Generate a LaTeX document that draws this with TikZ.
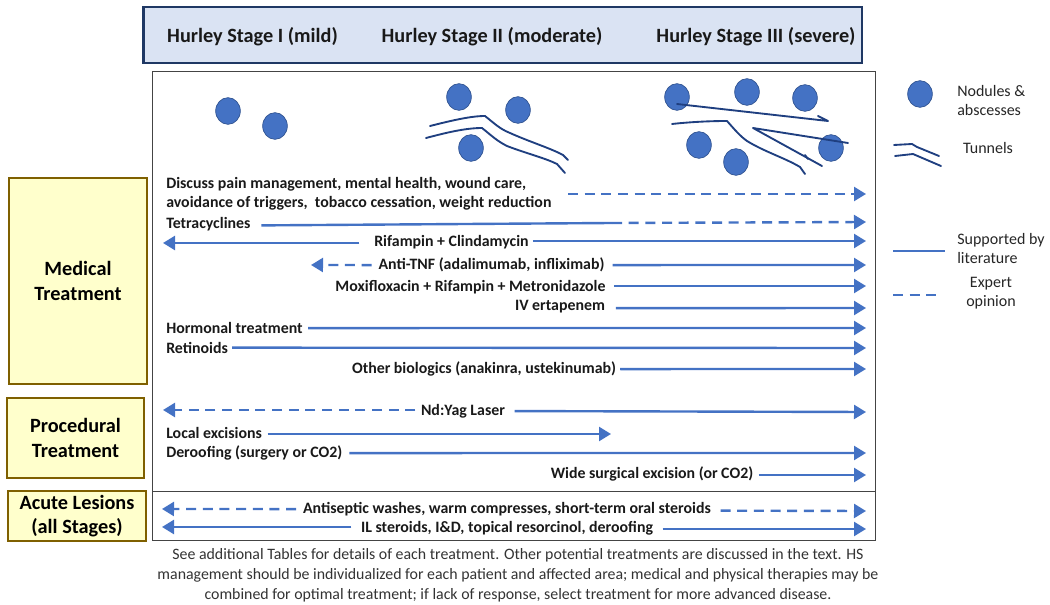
\documentclass[tikz,border=0pt]{standalone}
\usepackage{fontspec}
\setmainfont{Carlito}
\usetikzlibrary{arrows.meta,shapes.geometric}
\definecolor{arrowblue}{HTML}{4472C4}
\definecolor{nodeedge}{HTML}{2F528F}
\definecolor{tunnelblue}{HTML}{1F3F80}
\definecolor{headfill}{HTML}{DAE3F3}
\definecolor{headedge}{HTML}{1F3864}
\definecolor{sidefill}{HTML}{FFFFCC}
\definecolor{sideedge}{HTML}{7F6000}
\definecolor{framegrey}{HTML}{444444}
\tikzset{
  lab/.style={font=\fontsize{11.9pt}{14pt}\bfseries\selectfont,inner sep=0pt,text=black!90,yshift=-0.8pt},
  leftlab/.style={lab,anchor=west},
  stagelab/.style={font=\fontsize{15.2pt}{18pt}\bfseries\selectfont,inner sep=0pt,text=black!90,yshift=-0.7pt},
  legendlab/.style={font=\fontsize{12pt}{14.2pt}\selectfont,inner sep=0pt,text=black!85,align=left},
  notelab/.style={font=\fontsize{11.9pt}{14.9pt}\selectfont,inner sep=0pt,text=black!80,align=center},
  sidebox/.style={draw=sideedge,fill=sidefill,line width=1.7pt,inner sep=0pt,align=center,
    font=\fontsize{15.2pt}{18.4pt}\bfseries\selectfont},
  nodule/.style={ellipse,draw=nodeedge,fill=arrowblue,line width=0.5pt,minimum width=18.5pt,minimum height=20pt,inner sep=0pt},
  tunnel/.style={draw=tunnelblue,line width=1.4pt,line cap=round,line join=round},
  solidarr/.style={draw=arrowblue,line width=1.8pt,-{Triangle[length=9pt,width=10.5pt]}},
  dasharr/.style={solidarr,dash pattern=on 7.5pt off 5pt},
  plainline/.style={draw=arrowblue,line width=1.8pt},
  dashline/.style={plainline,dash pattern=on 7.5pt off 5pt},
}
\begin{document}
\begin{tikzpicture}[x=0.75pt,y=-0.75pt]
\useasboundingbox (0,0) rectangle (1050,605);
% header
\node[draw=headedge,fill=headfill,line width=2pt,minimum width=539pt,minimum height=42pt,inner sep=0pt] (hdr) at (502.5,35) {};
\node[stagelab] (s1) at (252.5,36) {Hurley Stage I (mild)};
\node[stagelab] (s2) at (492,36) {Hurley Stage II (moderate)};
\node[stagelab] (s3) at (756,36) {Hurley Stage III (severe)};
% frame
\draw[framegrey,line width=0.6pt] (152,71) rectangle (875,540);
\draw[framegrey,line width=0.6pt] (152,491) -- (875,491);
% side boxes
\node[sidebox,minimum width=104pt,minimum height=154pt] (med) at (78,281) {Medical\\Treatment};
\node[sidebox,minimum width=102.5pt,minimum height=60pt] (proc) at (75.5,438) {Procedural\\Treatment};
\node[sidebox,minimum width=103.5pt,minimum height=37pt] (acute) at (77,516) {Acute Lesions\\(all Stages)};
% nodules
\foreach \n/\x/\y in {a/228/111,b/275/126,c/459/97,d/518/110,e/471/148,f/677/97,g/747/92,h/805/98,i/699/145,j/736/162,k/831/148,l/920/94}
  \node[nodule] (n\n) at (\x,\y) {};
% tunnels stage II
\draw[tunnel] (430,126) .. controls (450,121) and (470,116) .. (485,116) .. controls (495,124) and (500,129) .. (510,133) .. controls (530,142) and (550,148) .. (563,155) -- (568,160);
\draw[tunnel] (426,138) .. controls (445,133) and (465,128) .. (482,128) .. controls (492,136) and (497,141) .. (507,146) .. controls (525,153) and (545,158) .. (557,164) -- (565,173);
% tunnels stage III
\draw[tunnel] (677,104) -- (828,121) -- (818,116);
\draw[tunnel] (672,124) .. controls (690,122) and (710,121) .. (727,121) .. controls (735,130) and (740,136) .. (747,141) .. controls (765,152) and (785,158) .. (800,167) -- (805,174);
\draw[tunnel] (848,143) -- (753,128) -- (822,166);
\draw[tunnel] (805,155) -- (808,159);
% legend
\draw[tunnel] (894,145) -- (912,144) -- (917,147) -- (939,156);
\draw[tunnel] (895,156) -- (913,154) -- (941,166);
\node[legendlab,anchor=west] (lg1) at (957,100.5) {Nodules \&\\abscesses};
\node[legendlab] (lg2) at (988,148) {Tunnels};
\node[legendlab,anchor=west] (lg3) at (957,248.5) {Supported by\\literature};
\node[legendlab,align=center] (lg4) at (991,293.5) {Expert\\opinion};
\coordinate (ls1) at (893,251); \coordinate (ls2) at (945,251);
\coordinate (ld1) at (893,295); \coordinate (ld2) at (938,295);
\draw[plainline] (ls1) -- (ls2);
\draw[dashline] (ld1) -- (ld2);
% rows
\node[lab,align=left,anchor=north west,font=\fontsize{11.9pt}{14.3pt}\bfseries\selectfont] (r1) at (166,176) {Discuss pain management, mental health, wound care,\\avoidance of triggers,~ tobacco cessation, weight reduction};
\coordinate (r1a) at (568,194); \coordinate (r1b) at (866,194);
\draw[dasharr] (r1a) -- (r1b);

\node[leftlab] (r2) at (166,223) {Tetracyclines};
\coordinate (r2m) at (612,223); \coordinate (r2b) at (866,222);
\draw[plainline] ([xshift=8pt,yshift=-1pt]r2.east) -- (r2m);
\draw[dasharr] (r2m) -- (r2b);

\node[lab] (r3) at (451.5,241) {Rifampin + Clindamycin};
\coordinate (r3l) at (163,243); \coordinate (r3r) at (866,241);
\draw[solidarr] ([xshift=3pt,yshift=0.8pt]r3.east) -- (r3r);
\draw[solidarr] ([xshift=-11pt,yshift=-0.7pt]r3.west) -- (r3l);

\node[lab] (r4) at (491.5,264) {Anti-TNF (adalimumab, infliximab)};
\coordinate (r4l) at (311,265); \coordinate (r4r) at (866,265);
\draw[solidarr] ([xshift=6pt]r4.east) -- (r4r);
\draw[dasharr] ([xshift=-5pt]r4.west) -- (r4l);

\node[lab] (r5) at (470.5,286) {Moxifloxacin + Rifampin + Metronidazole};
\coordinate (r5r) at (866,286);
\draw[solidarr] ([xshift=6pt,yshift=0.8pt]r5.east) -- (r5r);

\node[lab] (r6) at (560,305.5) {IV ertapenem};
\coordinate (r6r) at (866,308);
\draw[solidarr] ([xshift=8pt,yshift=-1.2pt]r6.east) -- (r6r);

\node[leftlab] (r7) at (166,327) {Hormonal treatment};
\coordinate (r7r) at (866,328);
\draw[solidarr] ([xshift=4pt]r7.east) -- (r7r);

\node[leftlab] (r8) at (166,347) {Retinoids};
\coordinate (r8r) at (866,348);
\draw[solidarr] ([xshift=3pt,yshift=0.3pt]r8.east) -- (r8r);

\node[lab] (r9) at (484,368) {Other biologics (anakinra, ustekinumab)};
\coordinate (r9r) at (866,369);
\draw[solidarr] ([xshift=3pt]r9.east) -- (r9r);

\node[lab] (p1) at (463,410) {Nd:Yag Laser};
\coordinate (p1l) at (163,410); \coordinate (p1r) at (866,412);
\draw[solidarr] ([xshift=7pt]p1.east) -- (p1r);
\draw[dasharr] ([xshift=-4pt,yshift=0.8pt]p1.west) -- (p1l);

\node[leftlab] (p2) at (166,432) {Local excisions};
\coordinate (p2r) at (611,434);
\draw[solidarr] ([xshift=4pt,yshift=-0.7pt]p2.east) -- (p2r);

\node[leftlab] (p3) at (166,452) {Deroofing (surgery or CO2)};
\coordinate (p3r) at (866,453);
\draw[solidarr] ([xshift=5pt]p3.east) -- (p3r);

\node[lab] (p4) at (652,473) {Wide surgical excision (or CO2)};
\coordinate (p4r) at (866,475);
\draw[solidarr] ([xshift=4pt,yshift=-0.7pt]p4.east) -- (p4r);

\node[lab] (a1) at (507,508) {Antiseptic washes, warm compresses, short-term oral steroids};
\coordinate (a1l) at (162,509); \coordinate (a1r) at (866,511);
\draw[dasharr] ([xshift=7pt,yshift=-1.2pt]a1.east) -- (a1r);
\draw[dasharr] ([xshift=-5pt]a1.west) -- (a1l);

\node[lab] (a2) at (507,527) {IL steroids, I\&D, topical resorcinol, deroofing};
\coordinate (a2l) at (162,527); \coordinate (a2r) at (866,529);
\draw[solidarr] ([xshift=7pt,yshift=-0.7pt]a2.east) -- (a2r);
\draw[solidarr] ([xshift=-7pt,yshift=0.8pt]a2.west) -- (a2l);

% note
\node[notelab] (note) at (518,575) {See additional Tables for details of each treatment. Other potential treatments are discussed in the text. HS\\management should be individualized for each patient and affected area; medical and physical therapies may be\\combined for optimal treatment; if lack of response, select treatment for more advanced disease.};
\end{tikzpicture}
\end{document}
